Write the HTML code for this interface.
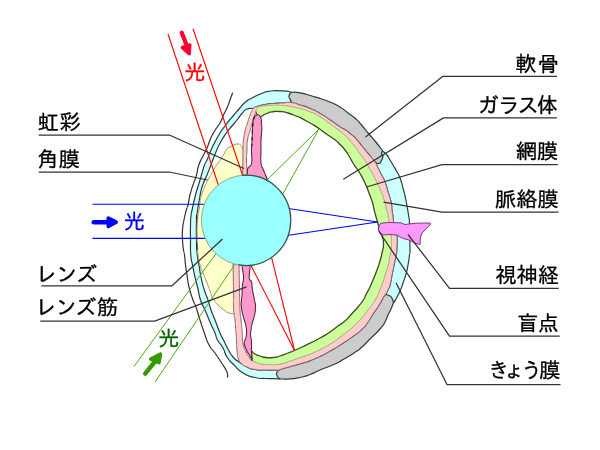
<!DOCTYPE html>
<html lang="ja"><head><meta charset="utf-8"><title>眼の構造</title>
<style>
html,body{margin:0;padding:0;background:#fff;overflow:hidden}
svg{display:block;will-change:transform}
text{font-family:'Liberation Sans','IPAGothic','Noto Sans CJK JP',sans-serif;font-size:21.33px;stroke-width:0.3px}
</style></head><body>
<svg width="600" height="450" viewBox="0 0 600 450">
<rect width="600" height="450" fill="#fff"/>
<path d="M280.0 379.0C278.3 378.9 280.0 378.8 275.0 378.6C270.0 378.4 271.7 378.9 265.0 378.5C258.3 378.1 262.3 379.3 255.0 377.5C247.7 375.7 250.0 377.2 243.0 373.0C236.0 368.8 239.3 370.3 234.0 365.0C228.7 359.7 230.7 362.7 227.0 357.0C223.3 351.3 226.2 353.7 223.0 348.0C219.8 342.3 220.2 345.0 217.5 340.0C214.8 335.0 217.5 339.0 215.0 333.0C212.5 327.0 213.3 329.7 210.0 322.0C206.7 314.3 208.2 317.3 205.0 310.0C201.8 302.7 202.8 307.0 200.5 300.0C198.2 293.0 199.8 296.7 198.0 289.0C196.2 281.3 196.8 285.0 195.0 277.0C193.2 269.0 193.9 272.3 192.5 265.0C191.1 257.7 191.5 263.3 190.8 255.0C190.1 246.7 190.6 250.0 190.5 240.0C190.4 230.0 190.3 233.0 190.5 225.0C190.7 217.0 190.3 221.7 191.0 216.0C191.7 210.3 191.0 215.0 192.5 208.0C194.0 201.0 193.5 202.7 195.5 195.0C197.5 187.3 196.5 191.7 198.5 185.0C200.5 178.3 199.5 181.7 201.5 175.0C203.5 168.3 202.7 170.0 204.5 165.0C206.3 160.0 204.8 165.0 207.0 160.0C209.2 155.0 208.3 156.0 211.0 150.0C213.7 144.0 212.0 147.7 215.0 142.0C218.0 136.3 216.7 138.3 220.0 133.0C223.3 127.7 221.8 130.3 225.0 126.0C228.2 121.7 226.8 123.3 229.5 120.0C232.2 116.7 229.8 119.7 233.0 116.0C236.2 112.3 235.0 113.5 239.0 109.0C243.0 104.5 240.3 106.3 245.0 102.5C249.7 98.7 247.0 100.7 253.0 97.5C259.0 94.3 257.0 95.2 263.0 93.0C269.0 90.8 265.3 91.7 271.0 91.0C276.7 90.3 274.7 90.7 280.0 90.8C285.3 90.9 283.3 90.7 287.0 91.2C290.7 91.7 289.7 91.9 291.0 92.3L291.5 102.6C288.7 102.7 288.5 102.7 283.0 103.0C277.5 103.3 281.0 102.9 275.0 103.4C269.0 103.9 271.0 103.5 265.0 104.5C259.0 105.5 261.0 105.2 257.0 106.5C253.0 107.8 256.3 107.5 253.0 108.3C249.7 109.1 250.7 107.3 247.0 109.0C243.3 110.7 245.3 109.8 242.0 113.5C238.7 117.2 240.3 115.8 237.0 120.0C233.7 124.2 235.7 121.5 232.0 126.0C228.3 130.5 229.7 128.3 226.0 133.5C222.3 138.7 224.0 136.2 221.0 141.5C218.0 146.8 219.3 144.3 217.0 149.5C214.7 154.7 216.2 151.5 214.0 157.0C211.8 162.5 212.8 160.0 210.5 166.0C208.2 172.0 209.3 169.3 207.0 175.0C204.7 180.7 205.5 177.7 203.5 183.0C201.5 188.3 202.3 185.7 201.0 191.0C199.7 196.3 200.7 192.3 199.5 199.0C198.3 205.7 198.5 203.3 197.5 211.0C196.5 218.7 196.8 212.3 196.5 222.0C196.2 231.7 196.2 229.0 196.5 240.0C196.8 251.0 196.5 246.7 197.3 255.0C198.1 263.3 197.8 257.7 199.0 265.0C200.2 272.3 199.3 269.0 201.0 277.0C202.7 285.0 201.7 281.3 204.0 289.0C206.3 296.7 205.7 293.0 208.0 300.0C210.3 307.0 208.7 303.3 211.0 310.0C213.3 316.7 212.0 312.3 215.0 320.0C218.0 327.7 217.2 326.3 220.0 333.0C222.8 339.7 220.8 334.7 223.5 340.0C226.2 345.3 224.8 343.3 228.0 349.0C231.2 354.7 229.3 352.7 233.0 357.0C236.7 361.3 234.3 358.7 239.0 362.0C243.7 365.3 241.7 364.5 247.0 367.0C252.3 369.5 249.0 368.5 255.0 369.5C261.0 370.5 258.3 369.8 265.0 370.0C271.7 370.2 270.5 370.0 275.0 370.0C279.5 370.0 277.3 370.0 278.5 370.0Z" fill="#ccffff" stroke="#2c3c3c" stroke-width="1.2" stroke-linejoin="round"/>
<path d="M382.5 151.0C384.0 152.3 384.5 152.0 387.0 155.0C389.5 158.0 388.0 156.7 390.0 160.0C392.0 163.3 390.7 161.0 393.0 165.0C395.3 169.0 394.7 167.7 397.0 172.0C399.3 176.3 398.0 172.7 400.0 178.0C402.0 183.3 401.2 181.3 403.0 188.0C404.8 194.7 404.2 192.0 405.5 198.0C406.8 204.0 406.0 200.3 407.0 206.0C408.0 211.7 407.7 209.3 408.5 215.0C409.3 220.7 409.1 214.7 409.5 223.0C409.9 231.3 409.6 231.0 409.8 240.0C410.0 249.0 410.1 245.0 410.0 250.0C409.9 255.0 410.2 250.0 409.5 255.0C408.8 260.0 409.2 258.7 408.0 265.0C406.8 271.3 407.7 268.0 406.0 274.0C404.3 280.0 404.8 277.7 403.0 283.0C401.2 288.3 402.5 285.3 400.5 290.0C398.5 294.7 399.2 292.8 397.0 297.0C394.8 301.2 395.0 300.7 394.0 302.5L385.5 294.3C386.5 292.5 386.8 292.8 388.5 289.0C390.2 285.2 389.3 287.7 390.5 283.0C391.7 278.3 390.8 281.0 392.0 275.0C393.2 269.0 392.7 271.7 394.0 265.0C395.3 258.3 395.1 260.0 396.0 255.0C396.9 250.0 396.4 256.0 396.7 250.0C397.0 244.0 397.4 243.7 397.0 237.0C396.6 230.3 396.6 235.0 395.5 230.0C394.4 225.0 394.4 226.3 393.6 222.0C392.8 217.7 393.5 221.0 393.0 217.0C392.5 213.0 392.7 215.0 392.0 210.0C391.3 205.0 392.3 208.0 391.0 202.0C389.7 196.0 390.0 198.7 388.0 192.0C386.0 185.3 387.3 188.0 385.0 182.0C382.7 176.0 383.3 178.7 381.0 174.0C378.7 169.3 380.0 172.0 378.0 168.0C376.0 164.0 376.0 164.0 375.0 162.0Z" fill="#ccffff" stroke="#2c3c3c" stroke-width="1.2" stroke-linejoin="round"/>
<path d="M291.0 92.3C294.0 92.5 293.0 91.6 300.0 92.8C307.0 94.0 305.0 94.0 312.0 96.0C319.0 98.0 315.0 96.8 321.0 98.8C327.0 100.8 323.7 99.3 330.0 102.0C336.3 104.7 334.0 103.3 340.0 107.0C346.0 110.7 342.7 109.0 348.0 113.0C353.3 117.0 351.5 115.0 356.0 119.0C360.5 123.0 357.2 120.0 361.5 125.0C365.8 130.0 364.5 128.7 369.0 134.0C373.5 139.3 371.0 136.2 375.0 141.0C379.0 145.8 378.5 145.2 381.0 148.5C383.5 151.8 382.0 150.2 382.5 151.0L382.5 151.0C382.2 152.0 381.4 152.2 381.6 154.0C381.8 155.8 383.1 154.0 383.0 156.3C382.9 158.6 382.6 158.4 381.3 160.8C380.0 163.2 381.1 163.1 379.0 163.5C376.9 163.9 376.3 162.5 375.0 162.0L375.0 162.0C373.3 160.0 373.3 160.0 370.0 156.0C366.7 152.0 368.0 153.7 365.0 150.0C362.0 146.3 364.0 148.7 361.0 145.0C358.0 141.3 359.3 142.5 356.0 139.0C352.7 135.5 354.7 137.6 351.0 134.5C347.3 131.4 348.7 132.3 345.0 129.8C341.3 127.3 345.0 130.3 340.0 127.0C335.0 123.7 336.7 124.5 330.0 120.0C323.3 115.5 326.7 117.3 320.0 113.5C313.3 109.7 316.7 111.3 310.0 108.5C303.3 105.7 306.2 107.0 300.0 105.0C293.8 103.0 294.3 103.4 291.5 102.6L291.5 102.6C291.0 101.4 290.8 101.2 290.0 99.0C289.2 96.8 288.7 98.2 289.0 96.0C289.3 93.8 290.3 93.5 291.0 92.3Z" fill="#cccccc" stroke="#2c3c3c" stroke-width="1.2" stroke-linejoin="round"/>
<path d="M393.5 302.5C392.7 304.7 392.8 304.8 391.0 309.0C389.2 313.2 390.0 310.7 388.0 315.0C386.0 319.3 387.7 317.3 385.0 322.0C382.3 326.7 385.0 323.3 380.0 329.0C375.0 334.7 376.0 333.0 370.0 339.0C364.0 345.0 367.3 342.3 362.0 347.0C356.7 351.7 360.0 349.0 354.0 353.0C348.0 357.0 350.3 355.3 344.0 359.0C337.7 362.7 343.0 360.3 335.0 364.0C327.0 367.7 328.3 366.5 320.0 370.0C311.7 373.5 316.7 372.0 310.0 374.5C303.3 377.0 306.7 376.1 300.0 377.5C293.3 378.9 296.7 378.3 290.0 378.8C283.3 379.3 283.3 378.9 280.0 379.0L280.0 379.0C279.2 378.2 278.6 378.5 277.5 376.5C276.4 374.5 276.4 375.2 276.7 373.0C277.0 370.8 277.9 371.0 278.5 370.0L278.5 370.0C280.7 369.3 279.5 369.6 285.0 368.0C290.5 366.4 288.3 367.1 295.0 365.2C301.7 363.3 300.0 363.8 305.0 362.3C310.0 360.8 305.0 362.6 310.0 360.6C315.0 358.6 313.3 359.5 320.0 356.3C326.7 353.1 323.3 354.8 330.0 351.0C336.7 347.2 332.7 349.7 340.0 345.0C347.3 340.3 344.7 342.3 352.0 337.0C359.3 331.7 356.7 334.0 362.0 329.0C367.3 324.0 364.3 327.0 368.0 322.0C371.7 317.0 369.3 319.7 373.0 314.0C376.7 308.3 375.5 310.7 379.0 305.0C382.5 299.3 381.3 300.6 383.5 297.0C385.7 293.4 384.8 295.2 385.5 294.3L385.5 294.3C386.0 294.5 385.7 294.3 387.0 294.8C388.3 295.3 387.8 294.6 389.5 295.7C391.2 296.8 390.7 295.9 392.0 298.2C393.3 300.5 393.0 301.1 393.5 302.5Z" fill="#cccccc" stroke="#2c3c3c" stroke-width="1.2" stroke-linejoin="round"/>
<path d="M242.8 150.0C242.7 149.3 243.3 149.6 242.5 148.0C241.7 146.4 242.3 146.5 240.5 145.2C238.7 143.9 240.2 143.6 237.0 144.0C233.8 144.4 234.3 144.8 231.0 146.5C227.7 148.2 229.3 146.5 227.0 149.0C224.7 151.5 225.8 151.0 224.0 154.0C222.2 157.0 223.5 155.0 221.5 158.0C219.5 161.0 219.7 160.7 218.0 163.0C216.3 165.3 218.2 162.3 216.5 165.0C214.8 167.7 215.5 166.7 213.0 171.0C210.5 175.3 211.7 173.0 209.0 178.0C206.3 183.0 207.3 180.7 205.0 186.0C202.7 191.3 203.7 188.7 202.0 194.0C200.3 199.3 201.0 196.7 200.0 202.0C199.0 207.3 199.8 204.0 199.0 210.0C198.2 216.0 198.1 210.0 197.5 220.0C196.9 230.0 197.0 228.3 197.2 240.0C197.4 251.7 197.1 246.7 198.0 255.0C198.9 263.3 198.3 259.0 200.0 265.0C201.7 271.0 200.7 267.0 203.0 273.0C205.3 279.0 204.7 277.0 207.0 283.0C209.3 289.0 208.3 286.3 210.0 291.0C211.7 295.7 210.7 294.0 212.0 297.0C213.3 300.0 212.0 297.3 214.0 300.0C216.0 302.7 214.7 301.7 218.0 305.0C221.3 308.3 220.3 307.3 224.0 310.0C227.7 312.7 225.8 311.8 229.0 313.0C232.2 314.2 232.0 313.4 233.5 313.6L233.2 264.0L246.0 230.0L242.8 176.0Z" fill="#ffffcc" stroke="none" stroke-width="1" stroke-linejoin="round"/>
<path d="M242.8 150.0C242.7 149.3 243.3 149.6 242.5 148.0C241.7 146.4 242.3 146.5 240.5 145.2C238.7 143.9 240.2 143.6 237.0 144.0C233.8 144.4 234.3 144.8 231.0 146.5C227.7 148.2 229.3 146.5 227.0 149.0C224.7 151.5 225.8 151.0 224.0 154.0C222.2 157.0 223.5 155.0 221.5 158.0C219.5 161.0 219.7 160.7 218.0 163.0C216.3 165.3 218.2 162.3 216.5 165.0C214.8 167.7 215.5 166.7 213.0 171.0C210.5 175.3 211.7 173.0 209.0 178.0C206.3 183.0 207.3 180.7 205.0 186.0C202.7 191.3 203.7 188.7 202.0 194.0C200.3 199.3 201.0 196.7 200.0 202.0C199.0 207.3 199.8 204.0 199.0 210.0C198.2 216.0 198.1 210.0 197.5 220.0C196.9 230.0 197.0 228.3 197.2 240.0C197.4 251.7 197.1 246.7 198.0 255.0C198.9 263.3 198.3 259.0 200.0 265.0C201.7 271.0 200.7 267.0 203.0 273.0C205.3 279.0 204.7 277.0 207.0 283.0C209.3 289.0 208.3 286.3 210.0 291.0C211.7 295.7 210.7 294.0 212.0 297.0C213.3 300.0 212.0 297.3 214.0 300.0C216.0 302.7 214.7 301.7 218.0 305.0C221.3 308.3 220.3 307.3 224.0 310.0C227.7 312.7 225.8 311.8 229.0 313.0C232.2 314.2 232.0 313.4 233.5 313.6" fill="none" stroke="#9a9468" stroke-width="1" stroke-linejoin="round"/>
<path d="M242.8 177.0C242.8 173.0 242.7 174.7 242.8 165.0C242.9 155.3 242.8 156.3 243.0 148.0C243.2 139.7 242.7 146.0 243.5 140.0C244.3 134.0 244.0 135.7 245.3 130.0C246.6 124.3 245.9 128.0 247.5 123.0C249.1 118.0 248.3 119.5 250.0 115.0C251.7 110.5 251.3 111.8 252.5 109.5C253.7 107.2 252.0 109.2 253.5 108.2C255.0 107.2 253.2 107.7 257.0 106.5C260.8 105.3 259.0 105.5 265.0 104.5C271.0 103.5 269.0 103.9 275.0 103.4C281.0 102.9 277.5 103.3 283.0 103.0C288.5 102.7 285.8 101.9 291.5 102.6C297.2 103.3 293.8 103.0 300.0 105.0C306.2 107.0 303.3 105.7 310.0 108.5C316.7 111.3 313.3 109.7 320.0 113.5C326.7 117.3 323.3 115.5 330.0 120.0C336.7 124.5 335.0 123.7 340.0 127.0C345.0 130.3 341.3 127.3 345.0 129.8C348.7 132.3 347.3 131.4 351.0 134.5C354.7 137.6 352.7 135.5 356.0 139.0C359.3 142.5 358.0 141.3 361.0 145.0C364.0 148.7 362.0 146.3 365.0 150.0C368.0 153.7 366.7 152.0 370.0 156.0C373.3 160.0 372.3 158.0 375.0 162.0C377.7 166.0 376.0 164.0 378.0 168.0C380.0 172.0 378.7 169.3 381.0 174.0C383.3 178.7 382.7 176.0 385.0 182.0C387.3 188.0 386.0 185.3 388.0 192.0C390.0 198.7 389.7 196.0 391.0 202.0C392.3 208.0 391.3 205.0 392.0 210.0C392.7 215.0 392.5 213.0 393.0 217.0C393.5 221.0 392.8 217.7 393.6 222.0C394.4 226.3 394.4 225.0 395.5 230.0C396.6 235.0 396.6 230.3 397.0 237.0C397.4 243.7 397.0 244.0 396.7 250.0C396.4 256.0 396.9 250.0 396.0 255.0C395.1 260.0 395.3 258.3 394.0 265.0C392.7 271.7 393.2 269.0 392.0 275.0C390.8 281.0 391.7 278.3 390.5 283.0C389.3 287.7 390.2 285.2 388.5 289.0C386.8 292.8 387.2 291.6 385.5 294.3C383.8 297.0 385.7 293.4 383.5 297.0C381.3 300.6 382.5 299.3 379.0 305.0C375.5 310.7 376.7 308.3 373.0 314.0C369.3 319.7 371.7 317.0 368.0 322.0C364.3 327.0 367.3 324.0 362.0 329.0C356.7 334.0 359.3 331.7 352.0 337.0C344.7 342.3 347.3 340.3 340.0 345.0C332.7 349.7 336.7 347.2 330.0 351.0C323.3 354.8 326.7 353.1 320.0 356.3C313.3 359.5 315.0 358.6 310.0 360.6C305.0 362.6 310.0 360.8 305.0 362.3C300.0 363.8 301.7 363.3 295.0 365.2C288.3 367.1 290.5 366.4 285.0 368.0C279.5 369.6 281.8 369.3 278.5 370.0C275.2 370.7 279.5 370.0 275.0 370.0C270.5 370.0 271.7 370.2 265.0 370.0C258.3 369.8 261.0 370.5 255.0 369.5C249.0 368.5 251.3 368.8 247.0 367.0C242.7 365.2 244.8 366.7 242.0 364.0C239.2 361.3 240.2 363.7 238.5 359.0C236.8 354.3 237.7 356.3 237.0 350.0C236.3 343.7 236.8 345.7 236.5 340.0C236.2 334.3 236.3 337.3 236.0 333.0C235.7 328.7 235.8 331.3 235.5 327.0C235.2 322.7 235.5 324.3 235.0 320.0C234.5 315.7 234.5 319.0 234.0 314.0C233.5 309.0 233.7 313.0 233.5 305.0C233.3 297.0 233.7 303.7 233.5 290.0C233.3 276.3 233.2 272.7 233.0 264.0L239.0 264.0C239.2 272.7 239.2 274.7 239.5 290.0C239.8 305.3 239.5 300.0 240.0 310.0C240.5 320.0 240.3 313.3 241.0 320.0C241.7 326.7 241.6 325.0 242.0 330.0C242.4 335.0 242.1 331.7 242.3 335.0C242.5 338.3 242.1 336.3 242.5 340.0C242.9 343.7 242.3 342.0 243.5 346.0C244.7 350.0 244.2 348.3 246.0 352.0C247.8 355.7 247.0 354.2 249.0 357.0C251.0 359.8 249.3 358.7 252.0 360.5C254.7 362.3 254.3 361.4 257.0 362.5C259.7 363.6 255.7 363.0 260.0 363.7C264.3 364.4 263.3 364.4 270.0 364.5C276.7 364.6 273.3 365.2 280.0 364.0C286.7 362.8 283.3 363.2 290.0 361.0C296.7 358.8 293.3 359.8 300.0 357.5C306.7 355.2 303.3 356.7 310.0 354.0C316.7 351.3 313.3 352.8 320.0 349.5C326.7 346.2 323.3 348.2 330.0 344.0C336.7 339.8 333.7 341.7 340.0 337.0C346.3 332.3 344.7 333.5 349.0 330.0C353.3 326.5 349.3 330.0 353.0 326.5C356.7 323.0 355.3 324.7 360.0 319.5C364.7 314.3 362.7 316.5 367.0 311.0C371.3 305.5 369.3 308.5 373.0 303.0C376.7 297.5 375.8 298.8 378.0 294.5C380.2 290.2 378.2 293.5 379.5 290.0C380.8 286.5 380.2 289.0 382.0 284.0C383.8 279.0 383.0 281.3 385.0 275.0C387.0 268.7 386.3 271.7 388.0 265.0C389.7 258.3 388.9 260.7 390.0 255.0C391.1 249.3 390.9 254.3 391.2 248.0C391.5 241.7 391.4 242.0 391.0 236.0C390.6 230.0 390.7 234.7 390.0 230.0C389.3 225.3 389.8 227.3 389.0 222.0C388.2 216.7 388.5 218.7 387.5 214.0C386.5 209.3 387.2 212.7 386.0 208.0C384.8 203.3 385.7 205.3 384.0 200.0C382.3 194.7 383.3 197.7 381.0 192.0C378.7 186.3 380.0 189.3 377.0 183.0C374.0 176.7 374.8 178.3 372.0 173.0C369.2 167.7 370.8 171.0 368.5 167.0C366.2 163.0 367.8 165.3 365.0 161.0C362.2 156.7 363.3 158.7 360.0 154.0C356.7 149.3 358.3 151.3 355.0 147.0C351.7 142.7 353.3 144.8 350.0 141.0C346.7 137.2 348.3 138.7 345.0 135.5C341.7 132.3 345.0 135.3 340.0 131.5C335.0 127.7 336.7 128.8 330.0 124.0C323.3 119.2 326.7 121.0 320.0 117.0C313.3 113.0 316.7 114.7 310.0 112.0C303.3 109.3 306.7 110.6 300.0 108.8C293.3 107.0 296.7 107.6 290.0 106.5C283.3 105.4 286.0 105.8 280.0 105.5C274.0 105.2 277.0 105.3 272.0 105.5C267.0 105.7 269.0 105.6 265.0 106.0C261.0 106.4 262.6 105.9 260.0 106.8C257.4 107.7 258.6 107.2 257.3 108.8C256.0 110.4 256.4 110.4 256.0 111.5C255.6 112.6 256.7 110.2 256.0 112.0C255.3 113.8 255.3 113.0 254.0 117.0C252.7 121.0 253.2 119.7 252.0 124.0C250.8 128.3 251.8 124.7 250.3 130.0C248.8 135.3 248.6 133.3 247.5 140.0C246.4 146.7 247.3 143.3 247.0 150.0C246.7 156.7 246.5 153.3 246.5 160.0C246.5 166.7 246.8 164.3 247.0 170.0C247.2 175.7 247.0 174.7 247.0 177.0Z" fill="#ffcccc" stroke="#8a6a6a" stroke-width="1" stroke-linejoin="round"/>
<path d="M256.0 111.5C256.4 110.6 256.0 110.4 257.3 108.8C258.6 107.2 257.4 107.7 260.0 106.8C262.6 105.9 261.0 106.4 265.0 106.0C269.0 105.6 267.0 105.7 272.0 105.5C277.0 105.3 274.0 105.2 280.0 105.5C286.0 105.8 283.3 105.4 290.0 106.5C296.7 107.6 293.3 107.0 300.0 108.8C306.7 110.6 303.3 109.3 310.0 112.0C316.7 114.7 313.3 113.0 320.0 117.0C326.7 121.0 323.3 119.2 330.0 124.0C336.7 128.8 335.0 127.7 340.0 131.5C345.0 135.3 341.7 132.3 345.0 135.5C348.3 138.7 346.7 137.2 350.0 141.0C353.3 144.8 351.7 142.7 355.0 147.0C358.3 151.3 356.7 149.3 360.0 154.0C363.3 158.7 362.2 156.7 365.0 161.0C367.8 165.3 366.2 163.0 368.5 167.0C370.8 171.0 369.2 167.7 372.0 173.0C374.8 178.3 374.0 176.7 377.0 183.0C380.0 189.3 378.7 186.3 381.0 192.0C383.3 197.7 382.3 194.7 384.0 200.0C385.7 205.3 384.8 203.3 386.0 208.0C387.2 212.7 386.5 209.3 387.5 214.0C388.5 218.7 388.2 216.7 389.0 222.0C389.8 227.3 389.3 225.3 390.0 230.0C390.7 234.7 390.6 230.0 391.0 236.0C391.4 242.0 391.5 241.7 391.2 248.0C390.9 254.3 391.1 249.3 390.0 255.0C388.9 260.7 389.7 258.3 388.0 265.0C386.3 271.7 387.0 268.7 385.0 275.0C383.0 281.3 383.8 279.0 382.0 284.0C380.2 289.0 380.8 286.5 379.5 290.0C378.2 293.5 380.2 290.2 378.0 294.5C375.8 298.8 376.7 297.5 373.0 303.0C369.3 308.5 371.3 305.5 367.0 311.0C362.7 316.5 364.7 314.3 360.0 319.5C355.3 324.7 356.7 323.0 353.0 326.5C349.3 330.0 353.3 326.5 349.0 330.0C344.7 333.5 346.3 332.3 340.0 337.0C333.7 341.7 336.7 339.8 330.0 344.0C323.3 348.2 326.7 346.2 320.0 349.5C313.3 352.8 316.7 351.3 310.0 354.0C303.3 356.7 306.7 355.2 300.0 357.5C293.3 359.8 296.7 358.8 290.0 361.0C283.3 363.2 286.7 362.8 280.0 364.0C273.3 365.2 276.7 364.6 270.0 364.5C263.3 364.4 264.3 364.4 260.0 363.7C255.7 363.0 259.7 363.6 257.0 362.5C254.3 361.4 253.7 361.2 252.0 360.5L251.5 351.0C252.7 352.0 252.2 352.3 255.0 354.0C257.8 355.7 256.3 354.8 260.0 356.0C263.7 357.2 261.7 357.0 266.0 357.5C270.3 358.0 268.3 358.0 273.0 357.5C277.7 357.0 275.0 357.5 280.0 356.0C285.0 354.5 283.2 354.8 288.0 353.0C292.8 351.2 289.8 352.5 294.5 350.5C299.2 348.5 296.8 349.4 302.0 347.0C307.2 344.6 304.0 346.2 310.0 343.2C316.0 340.2 313.3 341.7 320.0 338.0C326.7 334.3 324.0 336.0 330.0 332.0C336.0 328.0 332.8 329.8 338.0 326.0C343.2 322.2 340.8 324.7 345.5 320.5C350.2 316.3 347.8 318.0 352.0 313.5C356.2 309.0 354.1 311.7 358.0 307.0C361.9 302.3 361.0 303.7 363.7 299.5C366.4 295.3 364.1 298.3 366.0 294.5C367.9 290.7 367.2 292.8 369.5 288.0C371.8 283.2 370.5 286.0 373.0 280.0C375.5 274.0 374.7 276.3 377.0 270.0C379.3 263.7 378.3 266.7 380.0 261.0C381.7 255.3 380.8 258.7 382.0 253.0C383.2 247.3 383.5 249.7 383.5 244.0C383.5 238.3 383.5 240.3 382.0 236.0C380.5 231.7 380.2 234.3 379.0 231.0C377.8 227.7 379.0 229.0 378.5 226.0C378.0 223.0 378.5 225.7 377.5 222.0C376.5 218.3 376.7 219.3 375.5 215.0C374.3 210.7 375.2 213.7 374.0 209.0C372.8 204.3 373.7 206.3 372.0 201.0C370.3 195.7 371.3 199.0 369.0 193.0C366.7 187.0 368.0 189.5 365.0 183.0C362.0 176.5 362.7 178.2 360.0 173.5C357.3 168.8 359.3 172.5 357.0 169.0C354.7 165.5 355.7 167.3 353.0 163.0C350.3 158.7 351.7 160.3 349.0 156.0C346.3 151.7 348.0 153.8 345.0 150.0C342.0 146.2 343.3 147.9 340.0 144.5C336.7 141.1 340.0 143.6 335.0 139.8C330.0 136.0 330.3 136.8 325.0 133.0C319.7 129.2 324.0 131.8 319.0 128.5C314.0 125.2 316.3 126.7 310.0 123.0C303.7 119.3 304.7 119.8 300.0 117.5C295.3 115.2 300.0 117.5 296.0 116.0C292.0 114.5 293.3 114.5 288.0 113.0C282.7 111.5 285.3 111.9 280.0 111.5C274.7 111.1 276.0 111.3 272.0 111.8C268.0 112.3 270.7 112.0 268.0 113.0C265.3 114.0 266.3 113.5 264.0 114.7C261.7 115.9 262.8 116.1 261.0 116.5C259.2 116.9 260.0 116.8 258.5 116.0C257.0 115.2 257.2 114.7 256.5 114.0Z" fill="#ccff99" stroke="none" stroke-width="1" stroke-linejoin="round"/>
<path d="M256.0 111.5C256.4 110.6 256.0 110.4 257.3 108.8C258.6 107.2 257.4 107.7 260.0 106.8C262.6 105.9 261.0 106.4 265.0 106.0C269.0 105.6 267.0 105.7 272.0 105.5C277.0 105.3 274.0 105.2 280.0 105.5C286.0 105.8 283.3 105.4 290.0 106.5C296.7 107.6 293.3 107.0 300.0 108.8C306.7 110.6 303.3 109.3 310.0 112.0C316.7 114.7 313.3 113.0 320.0 117.0C326.7 121.0 323.3 119.2 330.0 124.0C336.7 128.8 335.0 127.7 340.0 131.5C345.0 135.3 341.7 132.3 345.0 135.5C348.3 138.7 346.7 137.2 350.0 141.0C353.3 144.8 351.7 142.7 355.0 147.0C358.3 151.3 356.7 149.3 360.0 154.0C363.3 158.7 362.2 156.7 365.0 161.0C367.8 165.3 366.2 163.0 368.5 167.0C370.8 171.0 369.2 167.7 372.0 173.0C374.8 178.3 374.0 176.7 377.0 183.0C380.0 189.3 378.7 186.3 381.0 192.0C383.3 197.7 382.3 194.7 384.0 200.0C385.7 205.3 384.8 203.3 386.0 208.0C387.2 212.7 386.5 209.3 387.5 214.0C388.5 218.7 388.2 216.7 389.0 222.0C389.8 227.3 389.3 225.3 390.0 230.0C390.7 234.7 390.6 230.0 391.0 236.0C391.4 242.0 391.5 241.7 391.2 248.0C390.9 254.3 391.1 249.3 390.0 255.0C388.9 260.7 389.7 258.3 388.0 265.0C386.3 271.7 387.0 268.7 385.0 275.0C383.0 281.3 383.8 279.0 382.0 284.0C380.2 289.0 380.8 286.5 379.5 290.0C378.2 293.5 380.2 290.2 378.0 294.5C375.8 298.8 376.7 297.5 373.0 303.0C369.3 308.5 371.3 305.5 367.0 311.0C362.7 316.5 364.7 314.3 360.0 319.5C355.3 324.7 356.7 323.0 353.0 326.5C349.3 330.0 353.3 326.5 349.0 330.0C344.7 333.5 346.3 332.3 340.0 337.0C333.7 341.7 336.7 339.8 330.0 344.0C323.3 348.2 326.7 346.2 320.0 349.5C313.3 352.8 316.7 351.3 310.0 354.0C303.3 356.7 306.7 355.2 300.0 357.5C293.3 359.8 296.7 358.8 290.0 361.0C283.3 363.2 286.7 362.8 280.0 364.0C273.3 365.2 276.7 364.6 270.0 364.5C263.3 364.4 264.3 364.4 260.0 363.7C255.7 363.0 259.7 363.6 257.0 362.5C254.3 361.4 253.7 361.2 252.0 360.5" fill="none" stroke="#b0c090" stroke-width="0.8" stroke-linejoin="round"/>
<path d="M256.5 114.0C257.2 114.7 257.0 115.2 258.5 116.0C260.0 116.8 259.2 116.9 261.0 116.5C262.8 116.1 261.7 115.9 264.0 114.7C266.3 113.5 265.3 114.0 268.0 113.0C270.7 112.0 268.0 112.3 272.0 111.8C276.0 111.3 274.7 111.1 280.0 111.5C285.3 111.9 282.7 111.5 288.0 113.0C293.3 114.5 292.0 114.5 296.0 116.0C300.0 117.5 295.3 115.2 300.0 117.5C304.7 119.8 303.7 119.3 310.0 123.0C316.3 126.7 314.0 125.2 319.0 128.5C324.0 131.8 319.7 129.2 325.0 133.0C330.3 136.8 330.0 136.0 335.0 139.8C340.0 143.6 336.7 141.1 340.0 144.5C343.3 147.9 342.0 146.2 345.0 150.0C348.0 153.8 346.3 151.7 349.0 156.0C351.7 160.3 350.3 158.7 353.0 163.0C355.7 167.3 354.7 165.5 357.0 169.0C359.3 172.5 357.3 168.8 360.0 173.5C362.7 178.2 362.0 176.5 365.0 183.0C368.0 189.5 366.7 187.0 369.0 193.0C371.3 199.0 370.3 195.7 372.0 201.0C373.7 206.3 372.8 204.3 374.0 209.0C375.2 213.7 374.3 210.7 375.5 215.0C376.7 219.3 376.5 218.3 377.5 222.0C378.5 225.7 378.0 223.0 378.5 226.0C379.0 229.0 377.8 227.7 379.0 231.0C380.2 234.3 380.5 231.7 382.0 236.0C383.5 240.3 383.5 238.3 383.5 244.0C383.5 249.7 383.2 247.3 382.0 253.0C380.8 258.7 381.7 255.3 380.0 261.0C378.3 266.7 379.3 263.7 377.0 270.0C374.7 276.3 375.5 274.0 373.0 280.0C370.5 286.0 371.8 283.2 369.5 288.0C367.2 292.8 367.9 290.7 366.0 294.5C364.1 298.3 366.4 295.3 363.7 299.5C361.0 303.7 361.9 302.3 358.0 307.0C354.1 311.7 356.2 309.0 352.0 313.5C347.8 318.0 350.2 316.3 345.5 320.5C340.8 324.7 343.2 322.2 338.0 326.0C332.8 329.8 336.0 328.0 330.0 332.0C324.0 336.0 326.7 334.3 320.0 338.0C313.3 341.7 316.0 340.2 310.0 343.2C304.0 346.2 307.2 344.6 302.0 347.0C296.8 349.4 299.2 348.5 294.5 350.5C289.8 352.5 292.8 351.2 288.0 353.0C283.2 354.8 285.0 354.5 280.0 356.0C275.0 357.5 277.7 357.0 273.0 357.5C268.3 358.0 270.3 358.0 266.0 357.5C261.7 357.0 263.7 357.2 260.0 356.0C256.3 354.8 257.8 355.7 255.0 354.0C252.2 352.3 252.7 352.0 251.5 351.0" fill="none" stroke="#3a4a22" stroke-width="1.3" stroke-linejoin="round"/>
<path d="M256.0 111.5L256.5 114.0" fill="none" stroke="#3a4a22" stroke-width="1" stroke-linejoin="round"/>
<path d="M252.0 360.5L251.5 351.0" fill="none" stroke="#3a4a22" stroke-width="1.2" stroke-linejoin="round"/>
<path d="M247.2 178.0C247.3 175.3 246.9 173.7 247.5 170.0C248.1 166.3 247.6 169.5 249.0 167.0C250.4 164.5 250.9 168.2 251.7 162.5C252.5 156.8 251.4 157.5 251.5 150.0C251.6 142.5 251.7 146.7 252.0 140.0C252.3 133.3 252.2 136.0 252.5 130.0C252.8 124.0 252.5 126.0 253.0 122.0C253.5 118.0 252.8 120.3 254.0 118.0C255.2 115.7 254.3 115.3 256.5 115.0C258.7 114.7 258.8 113.7 260.5 117.0C262.2 120.3 261.1 120.7 261.5 125.0C261.9 129.3 262.0 125.0 261.8 130.0C261.6 135.0 261.3 133.3 261.0 140.0C260.7 146.7 261.0 142.3 261.0 150.0C261.0 157.7 260.3 156.7 261.0 163.0C261.7 169.3 261.3 164.7 263.0 169.0C264.7 173.3 264.3 172.0 266.0 176.0C267.7 180.0 267.3 179.3 268.0 181.0Z" fill="#ff99cc" stroke="#5a2a45" stroke-width="1.1" stroke-linejoin="round"/>
<path d="M241.5 264.0C242.0 266.7 242.3 267.0 243.0 272.0C243.7 277.0 243.7 274.7 243.5 279.0C243.3 283.3 243.0 279.7 242.5 285.0C242.0 290.3 242.3 290.0 242.0 295.0C241.7 300.0 241.7 295.7 241.5 300.0C241.3 304.3 240.7 301.7 241.5 308.0C242.3 314.3 242.5 313.0 244.0 319.0C245.5 325.0 245.2 320.7 246.0 326.0C246.8 331.3 246.9 329.7 246.4 335.0C245.9 340.3 245.0 338.7 244.4 342.0C243.8 345.3 243.6 342.0 244.5 345.0C245.4 348.0 245.2 347.3 247.0 351.0C248.8 354.7 248.3 352.8 250.0 356.0C251.7 359.2 251.3 359.0 252.0 360.5L252.0 360.5C251.8 357.3 251.7 355.8 251.5 351.0C251.3 346.2 251.6 349.7 251.5 346.0C251.4 342.3 251.6 343.7 251.3 340.0C251.0 336.3 250.7 338.3 250.6 335.0C250.5 331.7 250.5 333.7 251.0 330.0C251.5 326.3 251.0 328.3 252.0 324.0C253.0 319.7 252.8 322.3 254.0 317.0C255.2 311.7 255.3 313.7 255.5 308.0C255.7 302.3 255.5 306.0 254.5 300.0C253.5 294.0 253.5 296.0 252.5 290.0C251.5 284.0 252.5 285.7 251.5 282.0C250.5 278.3 250.2 282.0 249.5 279.0C248.8 276.0 249.2 278.0 249.5 273.0C249.8 268.0 250.2 267.0 250.5 264.0Z" fill="#ff99cc" stroke="#5a2a45" stroke-width="1.1" stroke-linejoin="round"/>
<path d="M254.6 116.5L253.0 122.0L252.4 130.0L252.0 146.0" fill="none" stroke="#222" stroke-width="1.2" stroke-dasharray="3 4"/>
<path d="M196.6 215.0L196.5 219.0" fill="none" stroke="#222" stroke-width="1.3" />
<path d="M196.6 243.0L197.0 250.0" fill="none" stroke="#222" stroke-width="1.3" />
<path d="M379.0 226.0L380.5 223.6L383.0 223.0L388.0 222.5L401.0 222.8L405.0 224.5L409.0 224.0L416.0 223.2L425.0 223.0L430.0 223.0L430.8 223.7L428.3 226.7L425.0 230.0L422.0 233.0L420.5 237.0L420.0 244.5L419.5 244.5L415.0 243.0L409.0 240.0L405.0 239.0L400.0 237.0L397.0 235.0L390.0 234.5L383.0 235.0L380.5 233.0L378.5 230.0Z" fill="#ff99ff" stroke="#6a306a" stroke-width="0.9" stroke-linejoin="round"/>
<path d="M232.5 93.0C231.7 95.3 231.8 95.0 230.0 100.0C228.2 105.0 229.0 103.3 227.0 108.0C225.0 112.7 226.0 109.7 224.0 114.0C222.0 118.3 223.0 117.0 221.0 121.0C219.0 125.0 220.3 122.3 218.0 126.0C215.7 129.7 216.7 127.3 214.0 132.0C211.3 136.7 212.3 134.7 210.0 140.0C207.7 145.3 209.3 142.7 207.0 148.0C204.7 153.3 205.7 150.3 203.0 156.0C200.3 161.7 201.0 158.7 198.8 165.0C196.6 171.3 198.4 168.3 196.5 175.0C194.6 181.7 195.2 178.3 193.0 185.0C190.8 191.7 191.7 188.3 190.0 195.0C188.3 201.7 189.2 200.0 188.0 205.0C186.8 210.0 187.6 205.0 186.3 210.0C185.0 215.0 185.3 213.3 184.0 220.0C182.7 226.7 183.0 223.3 182.5 230.0C182.0 236.7 182.2 233.3 182.5 240.0C182.8 246.7 182.8 245.0 183.5 250.0C184.2 255.0 183.8 250.0 184.5 255.0C185.2 260.0 184.7 258.3 185.5 265.0C186.3 271.7 185.8 267.7 187.0 275.0C188.2 282.3 187.0 278.7 189.0 287.0C191.0 295.3 190.7 293.3 193.0 300.0C195.3 306.7 193.7 300.3 196.0 307.0C198.3 313.7 197.3 311.7 200.0 320.0C202.7 328.3 201.0 323.7 204.0 332.0C207.0 340.3 205.3 338.0 209.0 345.0C212.7 352.0 211.0 347.3 215.0 353.0C219.0 358.7 217.3 356.3 221.0 362.0C224.7 367.7 223.8 365.8 226.0 370.0C228.2 374.2 227.0 372.2 227.5 374.5C228.0 376.8 227.5 376.2 227.5 377.0" fill="none" stroke="#333333" stroke-width="1.2" stroke-linecap="round"/>
<path d="M251.0 265.5L294.5 350.5" fill="none" stroke="#ff0000" stroke-width="1.1" />
<path d="M271.5 257.2L294.5 350.5" fill="none" stroke="#ff0000" stroke-width="1.1" />
<path d="M168.0 34.0L218.5 185.5" fill="none" stroke="#ff0000" stroke-width="1.1" />
<path d="M193.0 28.8L242.5 175.0" fill="none" stroke="#ff0000" stroke-width="1.1" />
<path d="M92.5 204.2L204.5 204.2" fill="none" stroke="#0000ff" stroke-width="1.1" />
<path d="M92.5 238.4L205.0 238.4" fill="none" stroke="#0000ff" stroke-width="1.1" />
<path d="M288.5 208.5L377.5 222.0" fill="none" stroke="#0000ff" stroke-width="1.1" />
<path d="M287.0 235.5L377.5 222.0" fill="none" stroke="#0000ff" stroke-width="1.1" />
<path d="M134.0 366.5L216.0 253.5" fill="none" stroke="#4cad1a" stroke-width="1" />
<path d="M155.0 382.0L234.5 265.0" fill="none" stroke="#4cad1a" stroke-width="1" />
<path d="M267.0 180.0L319.0 129.0" fill="none" stroke="#4cad1a" stroke-width="1" />
<path d="M282.5 194.5L319.0 129.0" fill="none" stroke="#4cad1a" stroke-width="1" />
<path d="M201.4 220.3a44.6 45.2 0 1 0 89.2 0a44.6 45.2 0 1 0 -89.2 0Z" fill="#99ffff" stroke="#8fa890" stroke-width="1" />
<path d="M242.1 175.3A44.6 45.2 0 1 1 238.3 264.8" fill="none" stroke="#2f5555" stroke-width="1.2" />
<path d="M38.7 135.0L169.3 135.0L244.0 168.5" fill="none" stroke="#333333" stroke-width="1.25" stroke-linejoin="round"/>
<path d="M38.7 172.0L169.3 172.0L207.5 180.0" fill="none" stroke="#333333" stroke-width="1.25" stroke-linejoin="round"/>
<path d="M41.3 285.8L172.0 285.8L222.5 239.0" fill="none" stroke="#333333" stroke-width="1.25" stroke-linejoin="round"/>
<path d="M40.3 321.2L154.7 321.2L246.5 286.8" fill="none" stroke="#333333" stroke-width="1.25" stroke-linejoin="round"/>
<path d="M557.0 76.3L443.0 76.3L365.5 137.0" fill="none" stroke="#333333" stroke-width="1.25" stroke-linejoin="round"/>
<path d="M557.0 117.9L443.5 117.9L343.3 179.2" fill="none" stroke="#333333" stroke-width="1.25" stroke-linejoin="round"/>
<path d="M557.8 164.7L442.0 164.7L366.5 187.0" fill="none" stroke="#333333" stroke-width="1.25" stroke-linejoin="round"/>
<path d="M558.5 212.1L442.0 212.1L383.5 202.2" fill="none" stroke="#333333" stroke-width="1.25" stroke-linejoin="round"/>
<path d="M558.7 288.3L449.5 288.3L408.0 234.5" fill="none" stroke="#333333" stroke-width="1.25" stroke-linejoin="round"/>
<path d="M559.7 336.2L449.5 336.2L379.0 231.5" fill="none" stroke="#333333" stroke-width="1.25" stroke-linejoin="round"/>
<path d="M560.5 384.5L447.0 384.5L396.0 282.8" fill="none" stroke="#333333" stroke-width="1.25" stroke-linejoin="round"/>
<path d="M181.7 32.7L186.8 45.5" fill="none" stroke="#ff0033" stroke-width="4.2" stroke-linecap="round"/>
<path d="M182.3 47.6L189.8 44.9L189.2 53.8Z" fill="#ff0033" stroke="#ff0033" stroke-width="3.4" stroke-linejoin="round"/>
<path d="M93.7 222.2L108 222.2" fill="none" stroke="#0000ff" stroke-width="4.4" stroke-linecap="round"/>
<path d="M108.3 218L116.2 222.2L108.3 226.5Z" fill="#0000ff" stroke="#0000ff" stroke-width="3.6" stroke-linejoin="round"/>
<path d="M145.2 373.6L155 361.5" fill="none" stroke="#339900" stroke-width="4.4" stroke-linecap="round"/>
<path d="M150.8 359.2L160.4 354.1L158.9 362.6Z" fill="#339900" stroke="#339900" stroke-width="3.6" stroke-linejoin="round"/>
<text x="37.6 59.2" y="129.7" fill="#000" stroke="#000">虹彩</text>
<text x="37.2 58.8" y="166.7" fill="#000" stroke="#000">角膜</text>
<text x="35.8 56.1 76" y="281.7" fill="#000" stroke="#000">レンズ</text>
<text x="35.3 55.4 75.2 96.7" y="315.4" fill="#000" stroke="#000">レンズ筋</text>
<text x="515.3 537.6" y="71.9" fill="#000" stroke="#000">軟骨</text>
<text x="477.6 498.1 517.4 537.1" y="112.8" fill="#000" stroke="#000">ガラス体</text>
<text x="515.7 537.1" y="158.7" fill="#000" stroke="#000">網膜</text>
<text x="494.9 516.25 537.6" y="206.7" fill="#000" stroke="#000">脈絡膜</text>
<text x="495.45 516.6 537.75" y="282.5" fill="#000" stroke="#000">視神経</text>
<text x="516.9 537.5" y="331.2" fill="#000" stroke="#000">盲点</text>
<text x="487.9 503.4 520.9 539.3" y="377.5" fill="#000" stroke="#000">きょう膜</text>
<text x="184" y="80.2" fill="#ff0000" stroke="#ff0000">光</text>
<text x="123.5" y="229.1" fill="#0000ff" stroke="#0000ff">光</text>
<text x="158" y="346.2" fill="#006600" stroke="#006600">光</text>
</svg>
</body></html>
